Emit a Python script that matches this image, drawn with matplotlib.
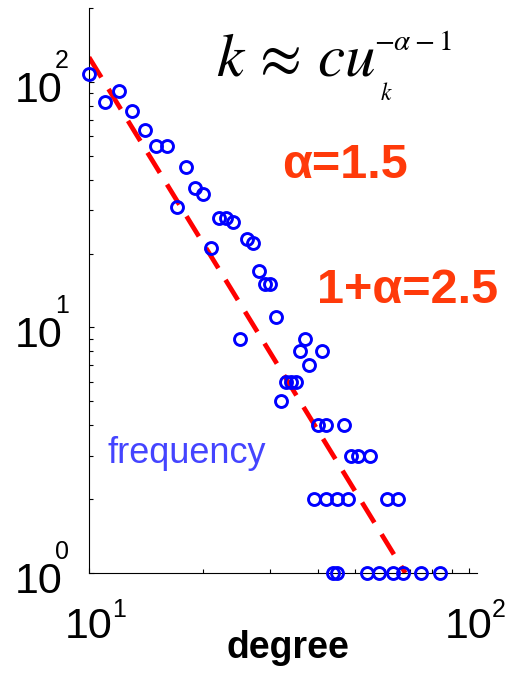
import numpy as np
import matplotlib
matplotlib.use("Agg")
import matplotlib.pyplot as plt
from matplotlib.ticker import LogLocator, NullFormatter
from matplotlib.transforms import offset_copy, blended_transform_factory

plt.rcParams['font.family'] = ['Liberation Sans', 'DejaVu Sans']
plt.rcParams['mathtext.fontset'] = 'stix'

# ---- data ----
degree = [10, 11, 12, 13, 14, 15, 16, 17, 18, 19, 20, 21, 22, 23, 24, 25, 26, 27,
          28, 29, 30, 31, 32, 33, 34, 35, 36, 37, 38, 41, 40, 42, 47, 49, 51, 55,
          39, 42, 45, 48, 61, 65, 44, 45, 54, 58, 63, 67, 75, 84]
frequency = [108, 83, 92, 76, 64, 55, 55, 31, 45, 37, 35, 21, 28, 28, 27, 9, 23, 22,
             17, 15, 15, 11, 5, 6, 6, 6, 8, 9, 7, 8, 4, 4, 4, 3, 3, 3,
             2, 2, 2, 2, 2, 2, 1, 1, 1, 1, 1, 1, 1, 1]
fit_x = [10, 68]
fit_y = [126, 1]
x_major = [10, 100]
y_major = [1, 10, 100]
x_limits = (10, 105)
y_limits = (1, 200)

W, H = 511, 673
fig = plt.figure(figsize=(W / 100, H / 100), dpi=100)
ax = fig.add_axes([89 / W, 1 - 573 / H, 388 / W, 565 / H])
ax.set_xscale('log')
ax.set_yscale('log')

ax.plot(fit_x, fit_y, color='#ff0000', lw=3.4, dashes=(5.0, 2.9),
        dash_capstyle='butt', zorder=2)
ax.plot(degree, frequency, 'o', mfc='none', mec='#0000ff', ms=8.6, mew=2.1,
        clip_on=False, zorder=3, linestyle='none')

ax.set_xlim(*x_limits)
ax.set_ylim(*y_limits)
for s in ['top', 'right']:
    ax.spines[s].set_visible(False)
for s in ['left', 'bottom']:
    ax.spines[s].set_linewidth(0.8)
    ax.spines[s].set_color('black')

for axis in (ax.xaxis, ax.yaxis):
    axis.set_major_locator(LogLocator(base=10))
    axis.set_minor_locator(LogLocator(base=10, subs=range(2, 10)))
    axis.set_minor_formatter(NullFormatter())
ax.tick_params(which='major', direction='in', length=3.8, width=0.8,
               labelbottom=False, labelleft=False)
ax.tick_params(which='minor', direction='in', length=2.6, width=0.8)

# tick labels (10 with superscript exponent)
tx = blended_transform_factory(ax.transData, ax.transAxes)
for v in x_major:
    e = int(round(np.log10(v)))
    ax.text(v, 0, '10', fontsize=31, ha='center', va='baseline',
            transform=offset_copy(tx, fig=fig, x=0, y=-65, units='dots'))
    ax.text(v, 0, str(e), fontsize=18, ha='left', va='baseline',
            transform=offset_copy(tx, fig=fig, x=23, y=-44, units='dots'))
ty = blended_transform_factory(ax.transAxes, ax.transData)
for v in y_major:
    e = int(round(np.log10(v)))
    ax.text(0, v, '10', fontsize=31, ha='right', va='baseline',
            transform=offset_copy(ty, fig=fig, x=-26, y=-20, units='dots'))
    ax.text(0, v, str(e), fontsize=18, ha='left', va='baseline',
            transform=offset_copy(ty, fig=fig, x=-34, y=14, units='dots'))

def fx(px):
    return px / W

def fy(py):
    return 1 - py / H

fig.text(fx(288), fy(658), 'degree', fontsize=27, fontweight='bold',
         ha='center', va='baseline')

# formula
fig.text(fx(216), fy(75), r'$k\,\approx\,cu$', fontsize=44, ha='left', va='baseline')
fig.text(fx(374), fy(50), r'$-\alpha-1$', fontsize=21, ha='left', va='baseline')
fig.text(fx(380), fy(100), r'$k$', fontsize=17, ha='left', va='baseline')

orange = '#ff3a0a'
fig.text(fx(282), fy(178), 'α=1.5', fontsize=35, fontweight='bold', color=orange,
         ha='left', va='baseline')
fig.text(fx(317), fy(303), '1+α=2.5', fontsize=35, fontweight='bold', color=orange,
         ha='left', va='baseline')
fig.text(fx(107), fy(463), 'frequency', fontsize=26, color='#4444ff',
         ha='left', va='baseline')

fig.savefig('out.png', dpi=100)
